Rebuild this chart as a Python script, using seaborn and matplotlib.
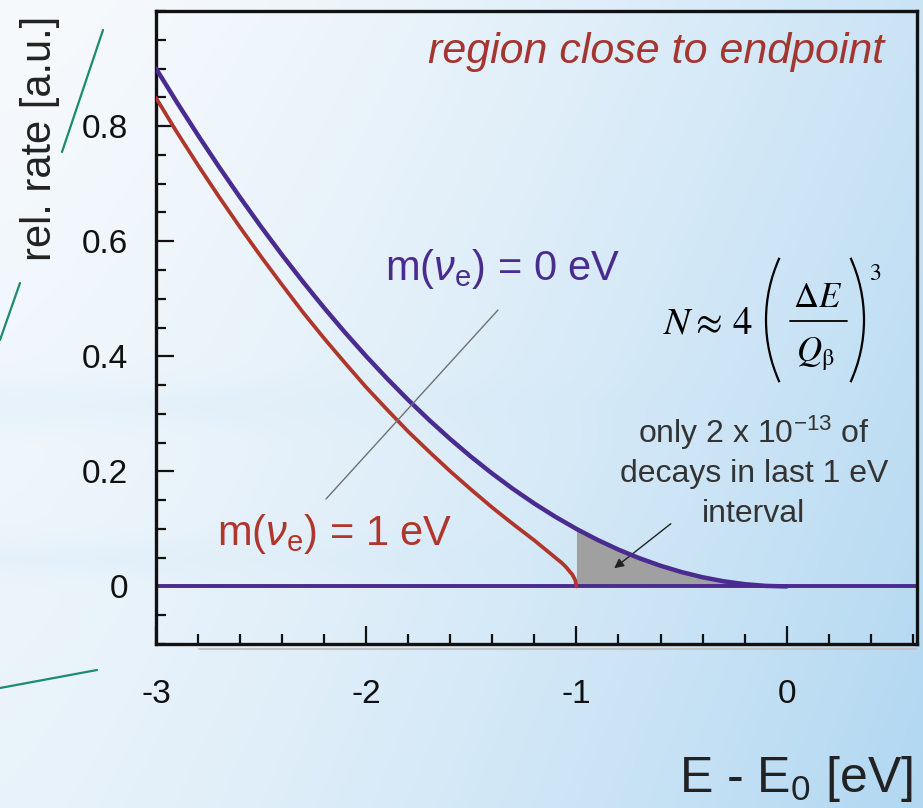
import numpy as np
import pandas as pd
import seaborn as sns
import matplotlib.pyplot as plt
from matplotlib.lines import Line2D
from matplotlib.patches import Arc
from matplotlib.ticker import MultipleLocator

# ---- data: relative beta-decay rate near the endpoint ----
energy_m0 = [-3.0, -2.9, -2.8, -2.7, -2.6, -2.5, -2.4, -2.3, -2.2, -2.1, -2.0,
             -1.9, -1.8, -1.7, -1.6, -1.5, -1.4, -1.3, -1.2, -1.1, -1.0,
             -0.9, -0.8, -0.7, -0.6, -0.5, -0.4, -0.3, -0.2, -0.1, 0.0]
rate_m0 = [0.900, 0.841, 0.784, 0.729, 0.676, 0.625, 0.576, 0.529, 0.484, 0.441, 0.400,
           0.361, 0.324, 0.289, 0.256, 0.225, 0.196, 0.169, 0.144, 0.121, 0.100,
           0.081, 0.064, 0.049, 0.036, 0.025, 0.016, 0.009, 0.004, 0.001, 0.000]

energy_m1 = [-3.0, -2.9, -2.8, -2.7, -2.6, -2.5, -2.4, -2.3, -2.2, -2.1, -2.0,
             -1.9, -1.8, -1.7, -1.6, -1.5, -1.4, -1.3, -1.2, -1.15, -1.1,
             -1.07, -1.05, -1.03, -1.02, -1.01, -1.005, -1.0]
rate_m1 = [0.849, 0.789, 0.732, 0.677, 0.624, 0.573, 0.524, 0.476, 0.431, 0.388, 0.346,
           0.307, 0.269, 0.234, 0.200, 0.168, 0.137, 0.108, 0.080, 0.065, 0.050,
           0.041, 0.034, 0.025, 0.021, 0.014, 0.010, 0.000]

last_interval = (-1.0, 0.0)
x_ticks = [-3, -2, -1, 0]
y_ticks = [0, 0.2, 0.4, 0.6, 0.8]
y_tick_labels = ["0", "0.2", "0.4", "0.6", "0.8"]

BLUE = "#4A2B90"
RED = "#B0362B"
W, H = 923, 808

sns.set_theme(style="white")
plt.rcParams["font.family"] = ["Liberation Sans", "DejaVu Sans"]
plt.rcParams["mathtext.fontset"] = "custom"
plt.rcParams["mathtext.rm"] = "Liberation Sans"
plt.rcParams["mathtext.it"] = "Liberation Sans:italic"
plt.rcParams["mathtext.bf"] = "Liberation Sans:bold"

fig = plt.figure(figsize=(W / 100, H / 100), dpi=100)


def fp(x, y):
    """pixel position (from top-left) -> figure fraction"""
    return x / W, 1 - y / H


def line_px(p0, p1, **kw):
    a, b = fp(*p0), fp(*p1)
    fig.add_artist(Line2D([a[0], b[0]], [a[1], b[1]], **kw))


# soft white-to-light-blue backdrop
yy, xx = np.mgrid[0:H, 0:W]
fx, fy = xx / W, yy / H
t = 0.62 * fx ** 1.5 + 0.2 * fy + 0.15 * fx * fy
t += 0.12 * np.exp(-((fy - 0.50) / 0.03) ** 2) * (1 - fx) ** 2
t += 0.10 * np.exp(-((fy - 0.69) / 0.025) ** 2) * (1 - fx) ** 2
t = np.clip(t, 0, 1)[..., None]
c0 = np.array([247, 250, 253]) / 255
c1 = np.array([175, 214, 241]) / 255
img = c0 * (1 - t) + c1 * t
bg = fig.add_axes([0, 0, 1, 1], zorder=0)
bg.imshow(img, aspect="auto", extent=[0, 1, 0, 1])
bg.axis("off")

# decorative green strokes
for p0, p1 in [((103, 30), (62, 152)), ((20, 283), (0, 340)), ((0, 688), (97, 670))]:
    line_px(p0, p1, color="#1B8C6C", lw=1.6, zorder=1)

# faint shadow below the frame
line_px((199, 649), (916, 649), color="#BFC4C8", lw=1.5, zorder=1)

ax = fig.add_axes([156 / W, (H - 644) / H, (917 - 156) / W, (644 - 11) / H], zorder=2)
ax.set_facecolor("none")

df0 = pd.DataFrame({"E": energy_m0, "rate": rate_m0})
df1 = pd.DataFrame({"E": energy_m1, "rate": rate_m1})

# shaded last 1 eV below the m=0 spectrum
sel = df0[(df0["E"] >= last_interval[0]) & (df0["E"] <= last_interval[1])]
ax.fill_between(sel["E"], 0, sel["rate"], color="#A0A0A0", lw=0, zorder=1)

ax.axhline(0, color=BLUE, lw=2.8, zorder=2)
sns.lineplot(data=df1, x="E", y="rate", ax=ax, color=RED, lw=2.7,
             sort=False, estimator=None, zorder=3)
sns.lineplot(data=df0, x="E", y="rate", ax=ax, color=BLUE, lw=3.2,
             sort=False, estimator=None, zorder=4)

ax.set_xlim(-3, 0.62)
ax.set_ylim(-0.1, 1.0)
ax.set_xticks(x_ticks, [str(v) for v in x_ticks])
ax.set_yticks(y_ticks, y_tick_labels)
ax.xaxis.set_minor_locator(MultipleLocator(0.2))
ax.yaxis.set_minor_locator(MultipleLocator(0.05))
ax.tick_params(which="both", direction="in", top=False, right=False,
               bottom=True, left=True, width=1.6, colors="#111111")
ax.tick_params(which="major", length=13)
ax.tick_params(which="minor", length=7)
ax.tick_params(axis="x", which="major", pad=25, labelsize=24)
ax.tick_params(axis="y", which="major", pad=20, labelsize=24)
for s in ax.spines.values():
    s.set_color("#111111")
    s.set_linewidth(2.4)
ax.set_xlabel("")
ax.set_ylabel("")

# axis titles
fig.text(*fp(913, 792), r"E - E$_{\mathregular{0}}$ [eV]", ha="right", va="baseline",
         size=36, color="#222222")
fig.text(*fp(40, 138), "rel. rate [a.u.]", rotation=90, ha="center", va="center",
         size=30, color="#222222")

# labels inside the plot
fig.text(*fp(884, 63), "region close to endpoint", ha="right", va="baseline",
         size=31, style="italic", color="#A5352F", zorder=5)
fig.text(*fp(385, 280), r"m($\nu_{\mathregular{e}}$) = 0 eV", ha="left", va="baseline",
         size=30, color=BLUE, zorder=5)
fig.text(*fp(217, 545), r"m($\nu_{\mathregular{e}}$) = 1 eV", ha="left", va="baseline",
         size=30, color=RED, zorder=5)

# N ~ 4 (dE / Q_beta)^3, typeset piece by piece
mt = dict(color="black", math_fontfamily="stix", zorder=5)
fig.text(*fp(663, 333), r"$N \approx\, \mathrm{4}$", ha="left", va="baseline", size=28, **mt)
fig.text(*fp(818, 307), r"$\Delta E$", ha="center", va="baseline", size=25, **mt)
fig.text(*fp(815, 361), r"$Q_{\mathrm{\beta}}$", ha="center", va="baseline", size=25, **mt)
fig.text(*fp(869, 280), r"$\mathrm{3}$", ha="left", va="baseline", size=17, **mt)
line_px((790, 321), (847, 321), color="black", lw=1.3, zorder=5)
R, half = 150, 24.5
for cx, th1, th2 in [(766 + R, 180 - half, 180 + half), (864 - R, -half, half)]:
    fig.add_artist(Arc((cx / 100, (H - 320) / 100), 2 * R / 100, 2 * R / 100,
                       theta1=th1, theta2=th2, transform=fig.dpi_scale_trans,
                       color="black", lw=1.6, zorder=5))

for txt, yb in [(r"only 2 x 10$^{\mathregular{-13}}$ of", 443),
                ("decays in last 1 eV", 482), ("interval", 522)]:
    fig.text(*fp(754, yb), txt, ha="center", va="baseline", size=23,
             color="#333333", zorder=5)

# leader line to the curve labels and arrow to the shaded area
line_px((326, 499), (498, 310), color="#707070", lw=1.0, zorder=5)
ax.annotate("", xy=fp(612, 570), xytext=fp(673, 522),
            xycoords="figure fraction", textcoords="figure fraction",
            arrowprops=dict(arrowstyle="-|>", color="#222222", lw=1.0, mutation_scale=14))

fig.savefig("out.png", dpi=100)
